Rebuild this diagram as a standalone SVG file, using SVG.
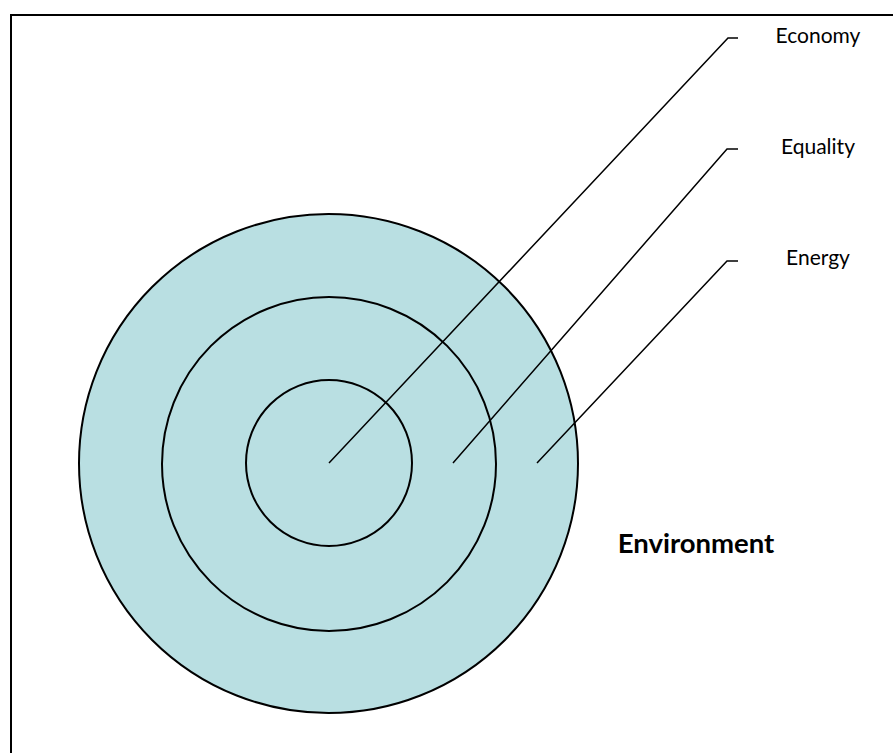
<svg xmlns="http://www.w3.org/2000/svg" width="893" height="753" viewBox="0 0 893 753">
<style>
.ring{fill:none;stroke:#000;stroke-width:2}
.lead{fill:none;stroke:#000;stroke-width:1.5}
.lbl{font-family:Lato,"Liberation Sans",sans-serif;font-size:21px;fill:#000;text-anchor:middle}
.big{font-family:Lato,"Liberation Sans",sans-serif;font-size:27.5px;font-weight:bold;fill:#000;text-anchor:middle}
</style>
<rect x="0" y="0" width="893" height="753" fill="#fff"/>
<g id="environment">
<rect x="11" y="15" width="900" height="760" fill="none" stroke="#000" stroke-width="2"/>
<text class="big" x="696" y="553">Environment</text>
</g>
<g id="energy">
<circle cx="328.5" cy="463.5" r="249.5" fill="#b9dfe2" stroke="#000" stroke-width="2"/>
<text class="lbl" x="818" y="265">Energy</text>
</g>
<g id="equality">
<circle class="ring" cx="329" cy="464" r="167"/>
<text class="lbl" x="818" y="154">Equality</text>
</g>
<g id="economy">
<circle class="ring" cx="329" cy="463" r="83"/>
<text class="lbl" x="818" y="43">Economy</text>
</g>
<g id="connectors">
<polyline class="lead" points="329,463 728,38 738,38"/>
<polyline class="lead" points="453,463 727,149 738,149"/>
<polyline class="lead" points="537,463 727,261 738,261"/>
</g>
</svg>
